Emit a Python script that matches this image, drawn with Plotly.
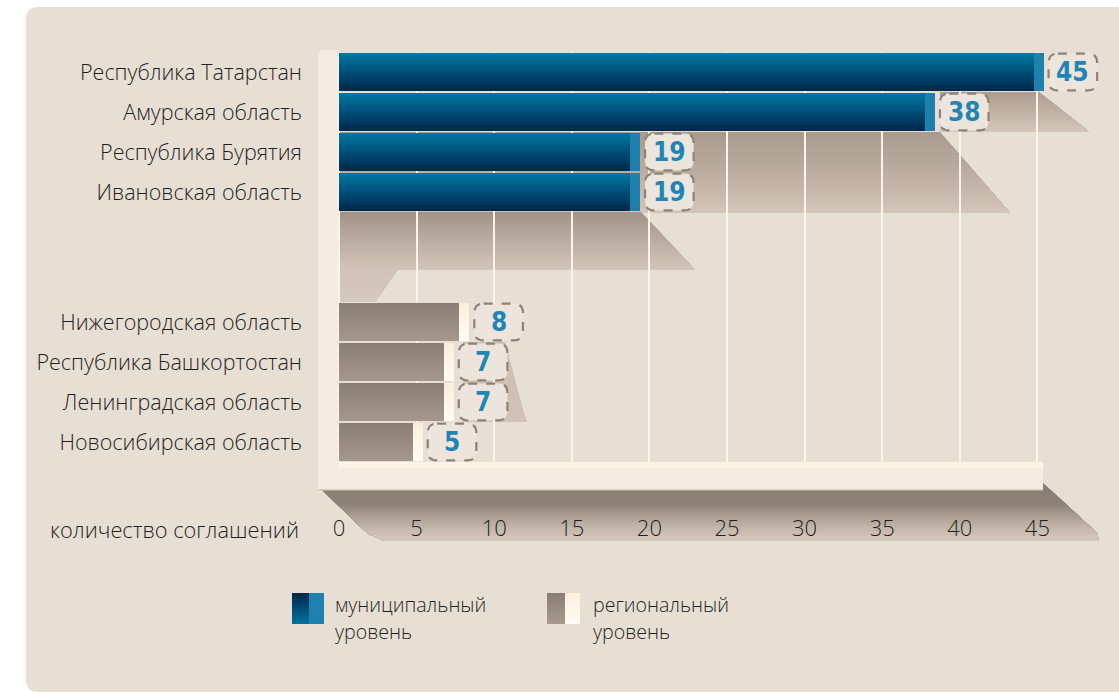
import plotly.graph_objects as go

# ---------------- data ----------------
regions = ["Республика Татарстан", "Амурская область", "Республика Бурятия",
           "Ивановская область", "Нижегородская область", "Республика Башкортостан",
           "Ленинградская область", "Новосибирская область"]
values = [45, 38, 19, 19, 8, 7, 7, 5]
levels = ["municipal", "municipal", "municipal", "municipal",
          "regional", "regional", "regional", "regional"]
row_pos = [0, 1, 2, 3, 6.25, 7.25, 8.25, 9.25]
x_ticks = [0, 5, 10, 15, 20, 25, 30, 35, 40, 45]
axis_title = "количество соглашений"
legend_municipal = ["муниципальный", "уровень"]
legend_regional = ["региональный", "уровень"]

# ---------------- geometry / style ----------------
W, H = 1119, 693
ML, MR, MT, MB = 317, 9, 52, 231
X0PX, PXU = 339.0, 15.52
XMIN = (ML - X0PX) / PXU
XMAX = (W - MR - X0PX) / PXU
PW, PH = W - ML - MR, H - MT - MB
FONT = "Open Sans, Noto Sans, sans-serif"
NUMFONT = "Liberation Sans Narrow, DejaVu Sans Condensed, Roboto, sans-serif"
CARD = "#e8dfd4"
TXT = "#1f1f1f"


def px(x):
    return (x - ML) / PW


def py(y):
    return (H - MB - y) / PH


def hex2rgb(h):
    h = h.lstrip("#")
    return tuple(int(h[i:i + 2], 16) for i in (0, 2, 4))


def mix(c1, c2, t):
    a, b = hex2rgb(c1), hex2rgb(c2)
    return "rgb(%d,%d,%d)" % tuple(round(a[i] + (b[i] - a[i]) * t) for i in range(3))


def grad(stops, t):
    for i in range(len(stops) - 1):
        t0, c0 = stops[i]
        t1, c1 = stops[i + 1]
        if t <= t1:
            return mix(c0, c1, 0 if t1 == t0 else (t - t0) / (t1 - t0))
    return mix(stops[-1][1], stops[-1][1], 0)


def clip_half(poly, yv, keep_above):
    out = []
    n = len(poly)
    for i in range(n):
        p, q = poly[i], poly[(i + 1) % n]
        pin = p[1] >= yv if keep_above else p[1] <= yv
        qin = q[1] >= yv if keep_above else q[1] <= yv
        if pin:
            out.append(p)
        if pin != qin:
            t = (yv - p[1]) / (q[1] - p[1])
            out.append((p[0] + (q[0] - p[0]) * t, yv))
    return out


def banded_shapes(poly, stops, nb, xref, yref, conv=None, layer="below"):
    """vertical gradient: stacked bands, each covering from its top to the polygon bottom"""
    ys = [p[1] for p in poly]
    y0, y1 = min(ys), max(ys)
    shapes = []
    for i in range(nb):
        a = y0 + (y1 - y0) * i / nb
        part = clip_half(poly, a, True)
        if len(part) < 3:
            continue
        if conv:
            part = [conv(p) for p in part]
        path = "M " + " L ".join("%.5f,%.5f" % p for p in part) + " Z"
        shapes.append(dict(type="path", path=path, xref=xref, yref=yref, layer=layer,
                           fillcolor=grad(stops, (i + 0.5) / nb), line=dict(width=0)))
    return shapes


def pconv(p):
    return (px(p[0]), py(p[1]))


def dx(pix):
    return (pix - X0PX) / PXU


def dy(pix):
    return (pix - 72) / 40.0


shapes = []
# card background
cx0, cy0, cx1, cy1, r = 26, 7, 1130, 692, 12
shapes.append(dict(type="path", xref="paper", yref="paper", layer="below",
                   path=("M %f,%f L %f,%f L %f,%f L %f,%f Q %f,%f %f,%f L %f,%f Q %f,%f %f,%f Z" % (
                       px(cx0 + r), py(cy0), px(cx1), py(cy0), px(cx1), py(cy1), px(cx0 + r), py(cy1),
                       px(cx0), py(cy1), px(cx0), py(cy1 - r), px(cx0), py(cy0 + r),
                       px(cx0), py(cy0), px(cx0 + r), py(cy0))),
                   fillcolor=CARD, line=dict(width=0)))

# shadows behind bars (data coords)
shA = [(dx(940), 0.5), (dx(1039), 0.5), (dx(1087), dy(130)), (dx(1089), 1.5), (dx(940), 1.5)]
shB = [(0, 1.5), (dx(940), 1.5), (dx(1010), dy(213)), (0, dy(213))]
shC = [(0, 3.5), (dx(641), 3.5), (dx(695), dy(270)), (dx(397), dy(270)), (dx(375), dy(302)), (0, dy(302))]
shD = [(dx(463), 6.75), (dx(505), 6.75), (dx(524), dy(414)), (dx(527), dy(422)), (dx(463), dy(422))]
shapes += banded_shapes(shA, [(0, "#ad9c8f"), (1, "#d4c6b9")], 14, "x", "y")
shapes += banded_shapes(shB, [(0, "#a99a8e"), (0.5, "#bcada0"), (1, "#d3c5b8")], 24, "x", "y")
shapes += banded_shapes(shC, [(0, "#a2938a"), (0.6, "#d0c2b5"), (1, "#d6c9bd")], 24, "x", "y")
shapes += banded_shapes(shD, [(0, "#cdbfb2"), (1, "#d0c2b5")], 4, "x", "y")

# floor shadow (paper coords)
shF = [(322, 490), (1043, 490), (1043, 483), (1097, 533), (1099, 541), (385, 541), (368, 534)]
shapes += banded_shapes(shF, [(0, "#897d74"), (0.35, "#8d8177"), (0.75, "#c2b4a8"), (1, "#d7cabd")],
                        28, "paper", "paper", conv=pconv)

# wall + floor
shapes.append(dict(type="path", xref="paper", yref="paper", layer="below",
                   path="M %f,%f L %f,%f Q %f,%f %f,%f L %f,%f L %f,%f L %f,%f L %f,%f Z" % (
                       px(318), py(490), px(318), py(56), px(318), py(50), px(325), py(50),
                       px(339), py(50), px(339), py(462), px(1043), py(462), px(1043), py(490)),
                   fillcolor="#f4ece2", line=dict(width=0)))
shapes.append(dict(type="rect", xref="paper", yref="paper", layer="below",
                   x0=px(339), x1=px(1043), y0=py(462), y1=py(468),
                   fillcolor="#fdf3e6", line=dict(width=0)))
shapes.append(dict(type="rect", xref="paper", yref="paper", layer="below",
                   x0=px(318), x1=px(1043), y0=py(489), y1=py(490.5),
                   fillcolor="#d9cdc1", line=dict(width=0)))

# ---------------- bars (stacked bands -> vertical gradient) ----------------
NB = 16
BW = 0.95
CAP_IN, CAP_OUT = 0.25, 0.4
main_top = {"municipal": "#0079a4", "regional": "#8a7d73"}
main_bot = {"municipal": "#00264a", "regional": "#a6988c"}
cap_top = {"municipal": "#1e82ae", "regional": "#fdeedb"}
cap_bot = {"municipal": "#1e7fab", "regional": "#fffbf6"}

fig = go.Figure()
h = BW / NB
for i in range(NB):
    t = (i + 0.5) / NB
    off = -BW / 2 + i * h
    wdt = BW - i * h
    fig.add_trace(go.Bar(
        orientation="h", y=row_pos, x=[v - CAP_IN for v in values], base=0,
        offset=off, width=wdt,
        marker=dict(color=[mix(main_top[l], main_bot[l], t) for l in levels], line=dict(width=0)),
        hoverinfo="skip", showlegend=False))
    fig.add_trace(go.Bar(
        orientation="h", y=row_pos, x=[CAP_IN + CAP_OUT] * len(values),
        base=[v - CAP_IN for v in values], offset=off, width=wdt,
        marker=dict(color=[mix(cap_top[l], cap_bot[l], t) for l in levels], line=dict(width=0)),
        hoverinfo="skip", showlegend=False))

# ---------------- value labels in dashed rounded boxes ----------------
annotations = []
BX0, BX1 = 0.72, 3.85
BH = 0.46
RX, RY = 0.6, 0.23
for v, yp in zip(values, row_pos):
    a, b = v + BX0, v + BX1
    t0, t1 = yp - BH, yp + BH
    path = ("M %f,%f L %f,%f Q %f,%f %f,%f L %f,%f Q %f,%f %f,%f L %f,%f Q %f,%f %f,%f "
            "L %f,%f Q %f,%f %f,%f Z") % (
        a + RX, t0, b - RX, t0, b, t0, b, t0 + RY, b, t1 - RY, b, t1, b - RX, t1,
        a + RX, t1, a, t1, a, t1 - RY, a, t0 + RY, a, t0, a + RX, t0)
    shapes.append(dict(type="path", path=path, xref="x", yref="y", layer="above",
                       fillcolor="#ede5db", line=dict(color="#8e8278", width=2.2, dash="dash")))
    annotations.append(dict(x=(a + b) / 2, y=yp, xref="x", yref="y", text="<b>%d</b>" % v,
                            showarrow=False, font=dict(family=NUMFONT, size=26, color="#1f85b6")))

# axis title
annotations.append(dict(x=px(301), y=py(529), xref="paper", yref="paper", text=axis_title,
                        xanchor="right", yanchor="middle", showarrow=False,
                        font=dict(family=FONT, size=21.8, color=TXT, weight=300)))

# ---------------- legend (custom) ----------------
def legend_icon(x0, xm, x1, y0, y1, ltop, lbot, rtop, rbot):
    out = banded_shapes([(x0, y0), (xm, y0), (xm, y1), (x0, y1)], [(0, ltop), (1, lbot)], 12,
                        "paper", "paper", conv=pconv, layer="above")
    out += banded_shapes([(xm, y0), (x1, y0), (x1, y1), (xm, y1)], [(0, rtop), (1, rbot)], 12,
                         "paper", "paper", conv=pconv, layer="above")
    return out


shapes += legend_icon(292, 309, 324, 593, 624, "#00264a", "#0073a0", "#1f82b0", "#1f80ad")
shapes += legend_icon(547, 565, 580, 593, 624, "#8a7d74", "#a89a8e", "#fff0dc", "#fffbf6")
for lx, lines in [(333, legend_municipal), (591, legend_regional)]:
    for k, line in enumerate(lines):
        annotations.append(dict(x=px(lx), y=py(604 + 27 * k), xref="paper", yref="paper",
                                text=line, xanchor="left", yanchor="middle", showarrow=False,
                                font=dict(family=FONT, size=19.6, color=TXT, weight=300)))

fig.update_layout(
    width=W, height=H,
    margin=dict(l=ML, r=MR, t=MT, b=MB),
    paper_bgcolor="white", plot_bgcolor="rgba(0,0,0,0)",
    barmode="overlay", bargap=0,
    showlegend=False,
    shapes=shapes, annotations=annotations,
    xaxis=dict(range=[XMIN, XMAX], tickmode="array", tickvals=x_ticks,
               ticktext=[str(t) for t in x_ticks], showgrid=True, gridcolor="#fbf4ea",
               gridwidth=2, zeroline=False, showline=False, ticks="",
               ticklabelstandoff=51,
               tickfont=dict(family=FONT, size=22, color=TXT, weight=300)),
    yaxis=dict(range=[9.75, -0.5], tickmode="array", tickvals=row_pos, ticktext=regions,
               showgrid=False, zeroline=False, showline=False, ticks="",
               ticklabelstandoff=14,
               tickfont=dict(family=FONT, size=21.5, color=TXT, weight=300)),
)

fig.write_html("out.html", config={"displayModeBar": False},
               post_script="document.body.style.margin='0';")
